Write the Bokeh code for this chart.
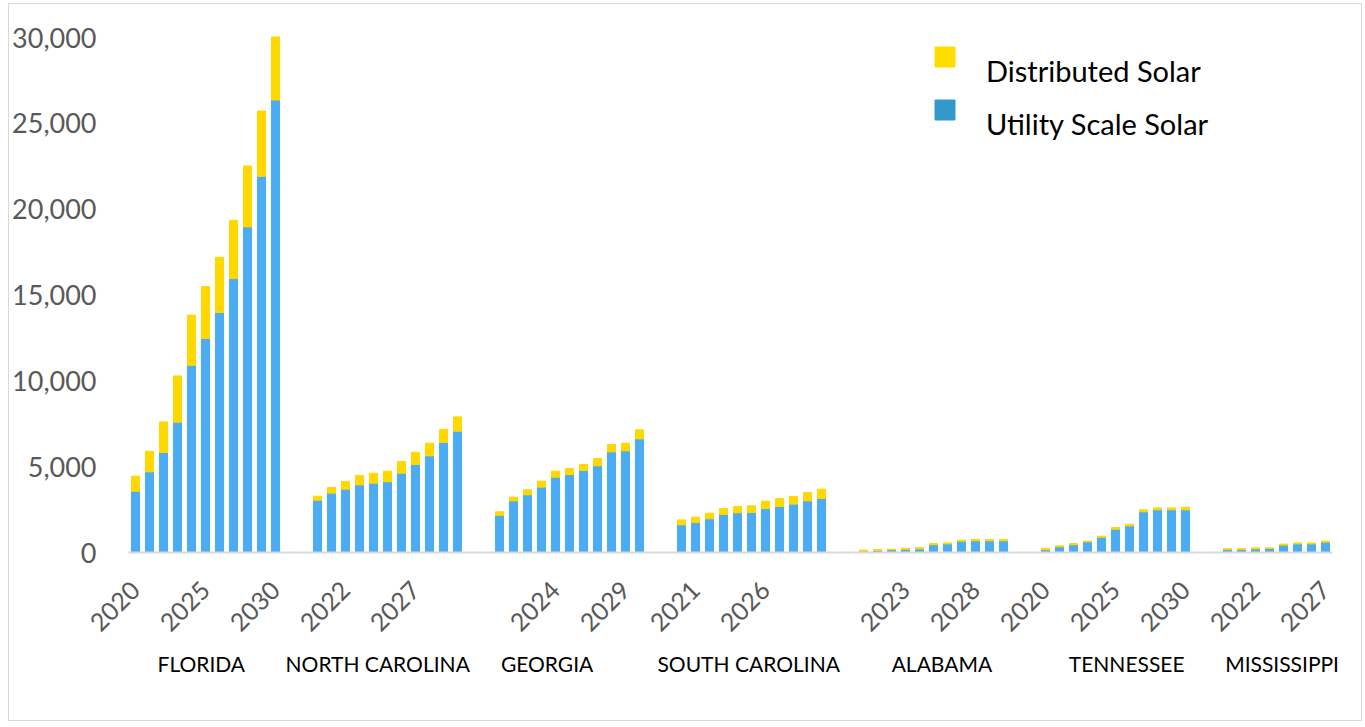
import math
from bokeh.plotting import figure
from bokeh.models import (ColumnDataSource, FixedTicker, LinearAxis, Range1d,
                          NumeralTickFormatter, Legend, LegendItem)
from bokeh.embed import file_html
from bokeh.resources import INLINE

# ---------------- data (MW) ----------------
states = ["FLORIDA", "NORTH CAROLINA", "GEORGIA", "SOUTH CAROLINA",
          "ALABAMA", "TENNESSEE", "MISSISSIPPI"]
years = [2020, 2021, 2022, 2023, 2024, 2025, 2026, 2027, 2028, 2029, 2030]

utility_florida = [3570, 4700, 5830, 7590, 10910, 12470, 13980, 15960, 18970, 21920, 26370]
distributed_florida = [880, 1200, 1780, 2700, 2920, 3030, 3220, 3400, 3550, 3810, 3670]

utility_north_carolina = [3050, 3460, 3690, 3940, 4040, 4120, 4620, 5130, 5630, 6410, 7070]
distributed_north_carolina = [230, 330, 450, 550, 580, 620, 680, 710, 740, 770, 830]

utility_georgia = [2170, 3010, 3360, 3810, 4390, 4540, 4780, 5050, 5860, 5920, 6620]
distributed_georgia = [200, 210, 290, 350, 350, 350, 350, 430, 430, 450, 530]

utility_south_carolina = [1610, 1750, 1960, 2210, 2310, 2330, 2560, 2680, 2820, 3010, 3150]
distributed_south_carolina = [290, 310, 330, 350, 370, 390, 430, 470, 440, 490, 540]

utility_alabama = [80, 120, 160, 190, 210, 450, 500, 660, 680, 680, 680]
distributed_alabama = [60, 50, 30, 60, 80, 70, 60, 60, 80, 80, 80]

utility_tennessee = [160, 330, 450, 620, 890, 1360, 1550, 2370, 2490, 2490, 2490]
distributed_tennessee = [90, 60, 70, 40, 60, 100, 100, 120, 110, 110, 150]

utility_mississippi = [170, 170, 210, 230, 430, 500, 500, 600]
distributed_mississippi = [60, 60, 60, 40, 60, 60, 60, 60]

y_ticks = [0, 5000, 10000, 15000, 20000, 25000, 30000]
series_names = ["Distributed Solar", "Utility Scale Solar"]

# ---------------- layout / style ----------------
utility_all = [utility_florida, utility_north_carolina, utility_georgia,
               utility_south_carolina, utility_alabama, utility_tennessee,
               utility_mississippi]
distributed_all = [distributed_florida, distributed_north_carolina,
                   distributed_georgia, distributed_south_carolina,
                   distributed_alabama, distributed_tennessee,
                   distributed_mississippi]

BLUE = "#4babf3"
YELLOW = "#ffd800"
LEG_BLUE = "#3399cc"
LEG_YELLOW = "#ffdd00"
GRAY = "#595959"
FONT = "Lato"

slots = len(years) + 2  # 11 years + 2 blank slots per state

xs, us, ds = [], [], []
for k, (u, d) in enumerate(zip(utility_all, distributed_all)):
    for j in range(len(u)):
        xs.append(k * slots + j)
        us.append(u[j])
        ds.append(d[j])
n_slots = xs[-1] + 1

src = ColumnDataSource(dict(x=xs, utility=us, distributed=ds))

p = figure(width=1354, height=718,
           x_range=Range1d(-0.5, n_slots - 0.5), y_range=Range1d(0, 31000),
           output_backend="svg", toolbar_location=None,
           min_border_left=119, min_border_right=31,
           min_border_top=16, min_border_bottom=170)
p.styles = {"border": "1px solid #d9d9d9", "margin-left": "8px", "margin-top": "3px"}
p.outline_line_color = None
p.xgrid.grid_line_color = None
p.ygrid.grid_line_color = None

p.vbar_stack(["utility", "distributed"], x="x", width=0.58,
             color=[BLUE, YELLOW], source=src)

# year axis
xa = p.xaxis[0]
year_ticks = list(range(0, n_slots, 5))
xa.ticker = FixedTicker(ticks=year_ticks)
xa.major_label_overrides = {
    t: (str(years[t % slots]) if t % slots < len(years) else "") for t in year_ticks
}
xa.major_label_orientation = math.pi / 4
xa.major_label_text_font = FONT
xa.major_label_text_font_size = "25px"
xa.major_label_text_color = GRAY
xa.major_label_standoff = 27
xa.axis_line_color = "#d9d9d9"
xa.axis_line_width = 2
xa.major_tick_line_color = None
xa.minor_tick_line_color = None

# state axis
state_label_pos = [4.7, 17.3, 29.4, 43.8, 57.6, 70.8, 81.9]
sa = LinearAxis(ticker=FixedTicker(ticks=state_label_pos),
                major_label_overrides={pos: s for pos, s in zip(state_label_pos, states)})
sa.major_label_text_font = FONT
sa.major_label_text_font_size = "21px"
sa.major_label_text_color = "#000000"
sa.major_label_standoff = 2
sa.axis_line_color = None
sa.major_tick_line_color = None
sa.minor_tick_line_color = None
p.add_layout(sa, "below")

# y axis
ya = p.yaxis[0]
ya.ticker = FixedTicker(ticks=y_ticks)
ya.formatter = NumeralTickFormatter(format="0,0")
ya.major_label_text_font = FONT
ya.major_label_text_font_size = "27px"
ya.major_label_text_color = GRAY
ya.major_label_standoff = 26
ya.axis_line_color = None
ya.major_tick_line_color = None
ya.minor_tick_line_color = None

# legend: swatches and labels as two legends (swatches sit above the text line)
nan = float("nan")
r_dist = p.vbar(x=[nan], top=[nan], width=0.5, color=LEG_YELLOW)
r_util = p.vbar(x=[nan], top=[nan], width=0.5, color=LEG_BLUE)
r_dist_t = p.vbar(x=[nan], top=[nan], width=0.5, fill_alpha=0, line_alpha=0)
r_util_t = p.vbar(x=[nan], top=[nan], width=0.5, fill_alpha=0, line_alpha=0)

swatches = Legend(items=[LegendItem(label=" ", renderers=[r_dist]),
                         LegendItem(label=" ", renderers=[r_util])],
                  location=(804, 430))
swatches.glyph_width = 25
swatches.glyph_height = 25
swatches.label_height = 25
swatches.label_text_font_size = "2px"
swatches.spacing = 28
swatches.padding = 0
swatches.margin = 0
swatches.border_line_color = None
swatches.background_fill_alpha = 0
p.add_layout(swatches)

labels = Legend(items=[LegendItem(label=series_names[0], renderers=[r_dist_t]),
                       LegendItem(label=series_names[1], renderers=[r_util_t])],
                location=(807, 411))
labels.glyph_width = 20
labels.glyph_height = 20
labels.label_height = 20
labels.spacing = 18
labels.padding = 0
labels.margin = 0
labels.label_standoff = 31
labels.label_text_font = FONT
labels.label_text_font_size = "29px"
labels.label_text_color = "#000000"
labels.label_text_baseline = "top"
labels.border_line_color = None
labels.background_fill_alpha = 0
p.add_layout(labels)

open("out.html", "w").write(file_html(p, INLINE))
